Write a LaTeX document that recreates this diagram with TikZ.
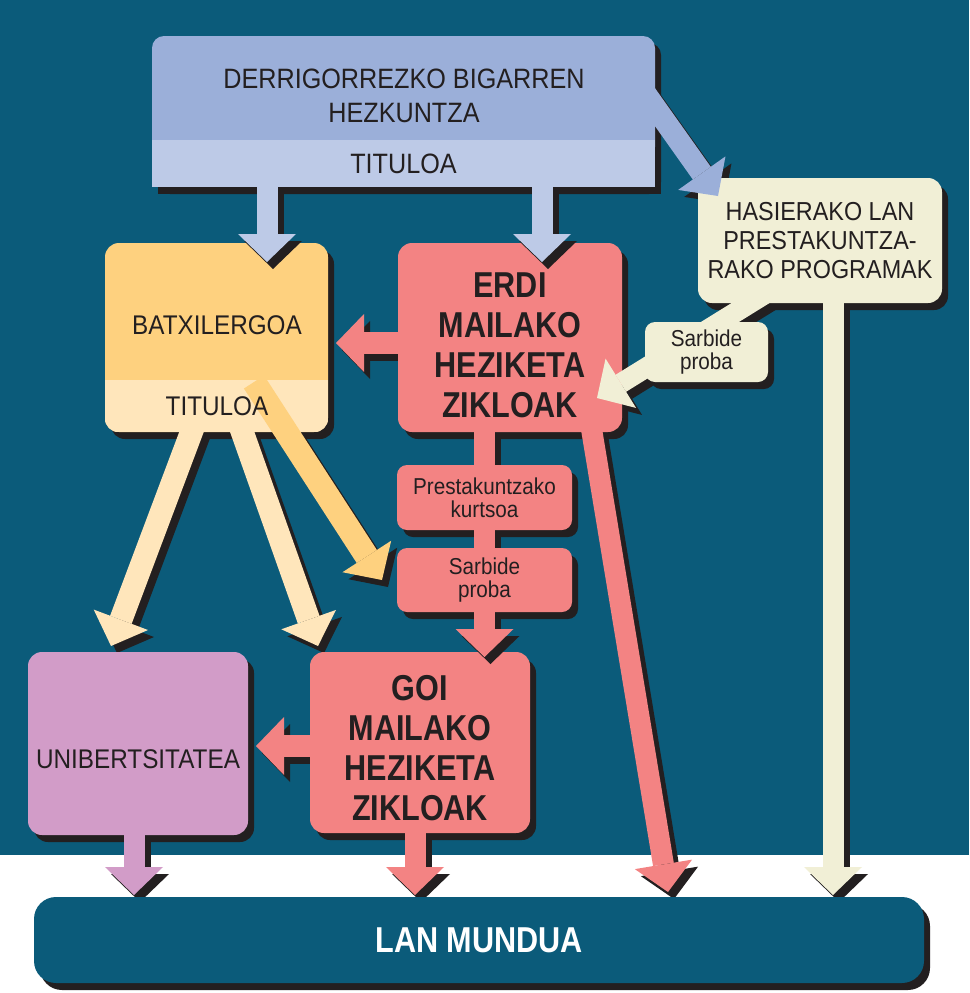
\documentclass[tikz,border=0pt]{standalone}
\usepackage{fontspec}
\setmainfont{Liberation Sans}[FakeStretch=0.9]
\newfontfamily\condfont{Liberation Sans}[FakeStretch=0.85]
\usetikzlibrary{arrows.meta,shadows}
\definecolor{seabg}{HTML}{0B5B7A}
\definecolor{shadowink}{HTML}{231F20}
\definecolor{ink}{HTML}{231F20}
\definecolor{blueA}{HTML}{9BAFD9}
\definecolor{blueB}{HTML}{BDCAE7}
\definecolor{orangeA}{HTML}{FED17F}
\definecolor{orangeB}{HTML}{FFE6BB}
\definecolor{salmon}{HTML}{F38383}
\definecolor{lilac}{HTML}{D29CC8}
\definecolor{cream}{HTML}{F1EFD6}
\pgfdeclarelayer{bg}
\pgfdeclarelayer{shadows}
\pgfsetlayers{bg,shadows,main}
\tikzset{
  box/.style={rounded corners=14pt, inner sep=0pt, align=center, text=ink,
    drop shadow={shadow xshift=6pt, shadow yshift=-7pt, fill=shadowink, opacity=1}},
  txtsmall/.style={font=\fontsize{23}{23}\selectfont},
  smallbox/.style={box, rounded corners=10pt, txtsmall},
  txtbold/.style={font=\condfont\bfseries\fontsize{36}{40}\selectfont},
  txtplain/.style={font=\fontsize{27}{31}\selectfont},
  txt/.style={inner sep=0pt, align=center, text=ink},
  fatline/.style={line width=21pt},
  fatarr/.style={line width=21pt, -{Triangle[width=58pt, length=28pt, line width=0pt]}}
}
\newcommand\fatarrow[2]{%
  \begin{pgfonlayer}{shadows}
    \draw[#1, draw=shadowink, transform canvas={shift={(6pt,-7pt)}}] #2;
  \end{pgfonlayer}
  \draw[#1] #2;}
\newcommand\fatarrowtop[2]{%
  \draw[#1, draw=shadowink, transform canvas={shift={(6pt,-7pt)}}] #2;
  \draw[#1] #2;}

\begin{document}
\begin{tikzpicture}[x=1pt, y=-1pt]
\useasboundingbox (0,0) rectangle (969,993);
\begin{pgfonlayer}{bg}
\fill[white] (0,0) rectangle (969,993);
\fill[seabg] (0,0) rectangle (969,855);
\end{pgfonlayer}

\node[box, rounded corners=12pt, fill=blueA, minimum width=503pt, minimum height=151pt] (dbh) at (403.5,111.5) {};
\node[box, sharp corners, fill=blueB, minimum width=503pt, minimum height=47pt, anchor=south, font=\fontsize{28}{34}\selectfont] (dbhtit) at (dbh.south) {TITULOA};
\node[txt, font=\fontsize{28}{34}\selectfont] (dbhlabel) at (404,96) {DERRIGORREZKO BIGARREN\\HEZKUNTZA};

\node[box, fill=cream, minimum width=244pt, minimum height=125pt, font=\fontsize{26}{29}\selectfont] (hasi) at (820,240.5) {HASIERAKO LAN\\PRESTAKUNTZA-\\RAKO PROGRAMAK};

\node[box, fill=orangeA, minimum width=223pt, minimum height=189pt] (batx) at (216.5,337.5) {};
\coordinate (batxcut) at (0,380);
\begin{scope}
\clip[rounded corners=14pt] (batx.south west) rectangle (batx.north east);
\fill[orangeB] (batx.south west) rectangle (batx.east |- batxcut);
\end{scope}
\node[txt, txtplain] (batxlabel) at (217,325) {BATXILERGOA};

\node[box, fill=salmon, minimum width=224pt, minimum height=189pt] (erdi) at (510,337.5) {};
\node[txt, txtbold] (erdilabel) at (510,345) {ERDI\\MAILAKO\\HEZIKETA\\ZIKLOAK};
\node[smallbox, fill=salmon, minimum width=175pt, minimum height=65pt] (prest) at (484.5,497.5) {Prestakuntzako\\kurtsoa};
\node[smallbox, fill=salmon, minimum width=175pt, minimum height=64pt] (sarb2) at (484.5,580) {Sarbide\\proba};
\node[box, fill=salmon, minimum width=220pt, minimum height=181pt] (goi) at (420,742.5) {};
\node[txt, txtbold] (goilabel) at (420,748) {GOI\\MAILAKO\\HEZIKETA\\ZIKLOAK};
\node[box, txtplain, fill=lilac, minimum width=220pt, minimum height=183pt, text height=50pt, text depth=0pt] (unib) at (138,743.5) {UNIBERTSITATEA};
\node[box, rounded corners=22pt, fill=seabg, minimum width=890pt, minimum height=86pt, text=white, font=\condfont\bfseries\fontsize{36}{40}\selectfont] (lan) at (479,940) {LAN MUNDUA};

\coordinate (t1) at (267,262);
\coordinate (t2) at (542,262);
\coordinate (s3) at (640,86);
\coordinate (t3) at (718,196);
\coordinate (s4) at (770,291);
\coordinate (t4) at (597,398);
\coordinate (t5) at (833,895);
\coordinate (t6) at (336,343);
\coordinate (s7) at (196,420);
\coordinate (t7) at (111,646);
\coordinate (s8) at (238,420);
\coordinate (t8) at (318,646);
\coordinate (s9) at (254,382);
\coordinate (t9) at (382,580);
\coordinate (t10) at (484.5,657);
\coordinate (s11) at (590,420);
\coordinate (t11) at (668,892);
\coordinate (t12) at (256,746);
\coordinate (t13) at (134,895);
\coordinate (t14) at (415,895);

\fatarrowtop{blueB, fatarr}{(dbh.south -| t1) -- (t1)}
\fatarrowtop{blueB, fatarr}{(dbh.south -| t2) -- (t2)}
\fatarrow{blueA, fatarr, line width=22pt}{(s3) -- (t3)}
\fatarrow{cream, fatarr, line width=20pt}{(s4) -- (t4)}
\fatarrow{cream, fatarr}{(hasi.south -| t5) -- (t5)}
\fatarrow{salmon, fatarr, line width=22pt}{(erdi.west |- t6) -- (t6)}
\fatarrow{orangeB, fatarr, line width=23pt}{(s7) -- (t7)}
\fatarrow{orangeB, fatarr, line width=23pt}{(s8) -- (t8)}
\fatarrow{orangeA, fatarr, line width=24pt}{(s9) -- (t9)}
\fatarrow{salmon, fatline}{(erdi.south -| prest) -- (prest.north)}
\fatarrow{salmon, fatline}{(prest.south) -- (sarb2.north)}
\fatarrowtop{salmon, fatarr}{(sarb2.south) -- (t10)}
\fatarrow{salmon, fatarr}{(s11) -- (t11)}
\fatarrow{salmon, fatarr, line width=22pt}{(goi.west |- t12) -- (t12)}
\fatarrow{lilac, fatarr}{(unib.south -| t13) -- (t13)}
\fatarrow{salmon, fatarr}{(goi.south -| t14) -- (t14)}

\node[txt, txtplain] (batxtit) at (217,406) {TITULOA};
\node[smallbox, fill=cream, minimum width=123pt, minimum height=60pt] (sarb1) at (706.5,352) {Sarbide\\proba};
\end{tikzpicture}
\end{document}
